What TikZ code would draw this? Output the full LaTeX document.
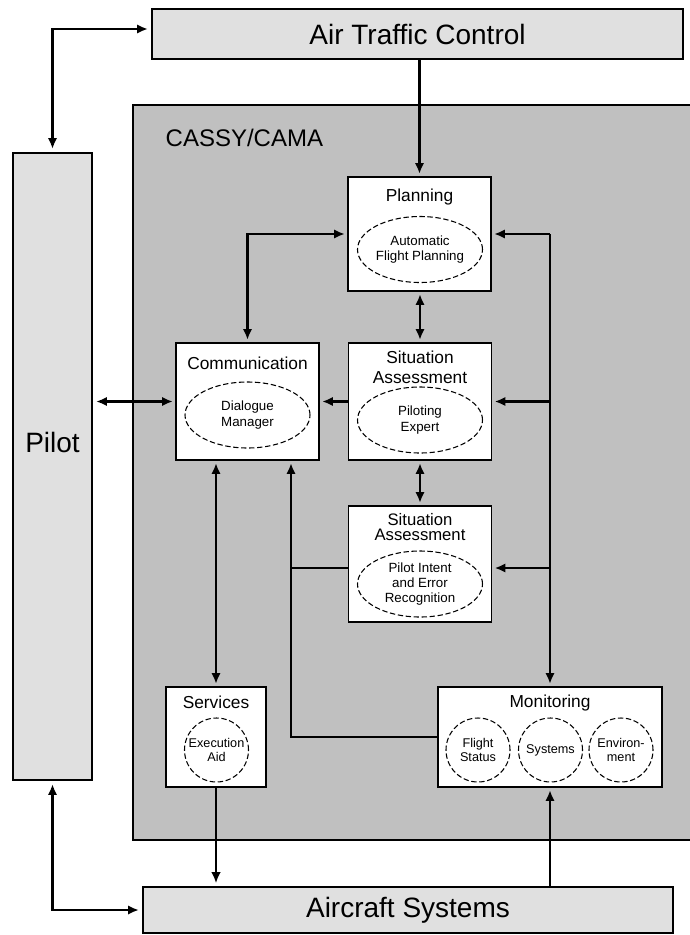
\documentclass[tikz,border=0pt]{standalone}
\usepackage{fontspec}
\setmainfont{Liberation Sans}
\usetikzlibrary{arrows.meta,shapes.geometric}
\definecolor{cassygray}{RGB}{192,192,192}
\definecolor{outergray}{RGB}{224,224,224}

\begin{document}
\begin{tikzpicture}[x=0.75pt,y=-0.75pt,>={Latex[length=8pt,width=7pt]},line join=miter]
    \tikzstyle{outer}=[draw,fill=outergray,line width=2.2pt,inner sep=0pt,font=\fontsize{21}{24}\selectfont]
    \tikzstyle{module}=[draw,fill=white,line width=0.8pt,inner sep=0pt]
    \tikzstyle{title}=[align=center,inner sep=0pt,font=\fontsize{13}{15}\selectfont]
    \tikzstyle{expert}=[draw,ellipse,dash pattern=on 4pt off 2pt,line width=0.8pt,inner sep=0pt,
                        minimum width=93.75pt,minimum height=49.5pt,align=center,font=\fontsize{10}{11.5}\selectfont]
    \tikzstyle{watch}=[expert,circle,minimum size=48pt,font=\fontsize{9.5}{11}\selectfont]
    \tikzstyle{flow}=[line width=1.7pt,shorten >=2pt]
    \tikzstyle{dual}=[flow,<->,shorten <=2pt]

    \useasboundingbox (0,0) rectangle (689,935);

    \draw[fill=cassygray,line width=2.2pt] (133,105) rectangle (700,840);
    \node[anchor=west,font=\fontsize{18}{20}\selectfont] (cassy) at (161,138) {CASSY/CAMA};

    \node[outer,minimum width=398.25pt,minimum height=37.5pt] (atc) at (417.5,34) {Air Traffic Control};
    \node[outer,minimum width=59.25pt,minimum height=470.25pt] (pilot) at (52.5,466.5) {};
    \node[font=\fontsize{21}{24}\selectfont] (pilottext) at (52.5,442) {Pilot};
    \node[outer,minimum width=397.5pt,minimum height=34.5pt] (aircraft) at (408,910) {Aircraft Systems};

    \node[module,minimum width=107.25pt,minimum height=85.5pt] (planning) at (419.5,234) {};
    \node[module,minimum width=107.25pt,minimum height=87.75pt] (comm) at (247.5,401.5) {};
    \node[module,minimum width=107.25pt,minimum height=87.75pt] (sa1) at (420,401.5) {};
    \node[module,minimum width=107.25pt,minimum height=87pt] (sa2) at (420,564) {};
    \node[module,minimum width=75pt,minimum height=75pt] (services) at (216,737) {};
    \node[module,minimum width=168pt,minimum height=75pt] (monitoring) at (550,737) {};

    \node[title] (plantitle) at (419.5,197) {Planning};
    \node[title] (commtitle) at (247.5,363) {Communication};
    \node[title] (sa1title) at (420,367.5) {Situation\\Assessment};
    \node[title,font=\fontsize{12.5}{11.5}\selectfont] (sa2title) at (420,527) {Situation\\Assessment};
    \node[title] (servtitle) at (216,702) {Services};
    \node[title] (montitle) at (550,703) {Monitoring};

    \node[expert] (afp) at (420,249.5) {Automatic\\Flight Planning};
    \node[expert] (dialogue) at (247.5,415) {Dialogue\\Manager};
    \node[expert] (piloting) at (420,420) {Piloting\\Expert};
    \node[expert] (intent) at (420,584) {Pilot Intent\\and Error\\Recognition};
    \node[watch] (execaid) at (216.5,750) {Execution\\Aid};
    \node[watch] (status) at (478,750) {Flight\\Status};
    \node[watch] (systems) at (550.5,750) {Systems};
    \node[watch] (environ) at (621,750) {Environ-\\ment};

    \coordinate (bus) at (550,234);
    \coordinate (join) at (291,568);

    \draw[flow,->] (atc.south -| planning.north) -- (planning.north);
    \draw[dual] ([yshift=3.75pt]atc.west) -| (pilot.north);
    \draw[dual] (pilot.east |- comm.west) -- (comm.west);
    \draw[dual] (planning.west) -| (comm.north);
    \draw[dual] (sa1.north |- planning.south) -- (sa1.north);
    \draw[flow,->] (sa1.west) -- (comm.east);
    \draw[dual] (sa1.south) -- (sa2.north);
    \draw[flow,->] (bus) -- (monitoring.north);
    \draw[flow,->] (bus) -- (planning.east);
    \draw[flow,->] (bus |- sa1.east) -- (sa1.east);
    \draw[flow,->] (bus |- join) -- (sa2.east |- join);
    \draw[dual] (services.north) -- (services.north |- comm.south);
    \draw[flow,shorten >=0pt] (sa2.west |- join) -- (join);
    \draw[flow,->] (monitoring.west) -| (join |- comm.south);
    \draw[flow,->,line width=0.9pt] (services.south) -- (services.south |- aircraft.north);
    \draw[flow,->] (monitoring.south |- aircraft.north) -- (monitoring.south);
    \draw[dual] (pilot.south) |- (aircraft.west);

\end{tikzpicture}
\end{document}
